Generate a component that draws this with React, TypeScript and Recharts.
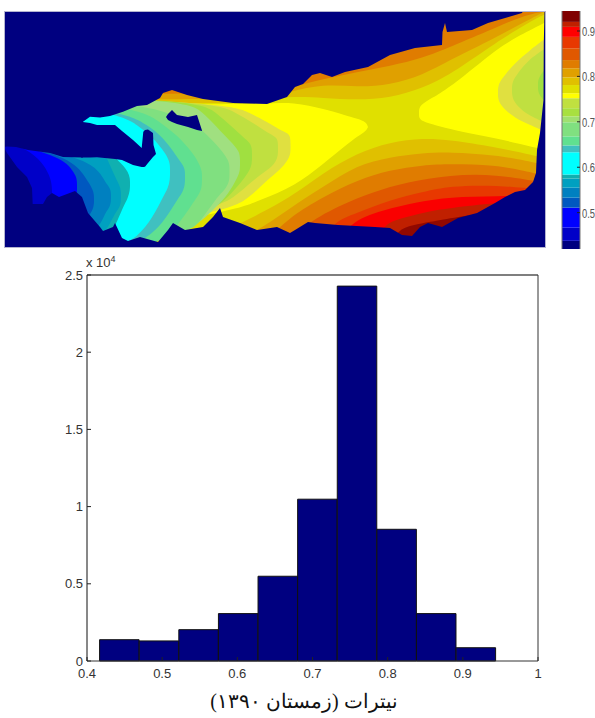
import React from "react";
import {
  Area,
  Bar,
  BarChart,
  ComposedChart,
  XAxis,
  YAxis,
} from "recharts";

type Row = [number, number, number]; // x, upper edge, lower edge of a contour region

// histogram
const binCenters = [0.4431, 0.4958, 0.5485, 0.6012, 0.6539, 0.7066, 0.7593, 0.812, 0.8647, 0.9174];
const binCounts = [1380, 1300, 2030, 3070, 5490, 10480, 24280, 8530, 3070, 860];
const countTicks = [0, 5000, 10000, 15000, 20000, 25000];
const valueTicks = [0.4, 0.5, 0.6, 0.7, 0.8, 0.9, 1];

// colorbar
const barEdges = [0.42, 0.438, 0.467, 0.511, 0.533, 0.555, 0.575, 0.584, 0.633, 0.648, 0.668, 0.699, 0.712, 0.73, 0.752, 0.763, 0.781, 0.798, 0.818, 0.836, 0.862, 0.887, 0.909, 0.92, 0.944];
const barColors = ["#000080", "#0000c8", "#0000ff", "#0058c0", "#0080c0", "#00a0c0", "#10b0b0", "#00ffff", "#40c0c0", "#60e090", "#80e080", "#a0e070", "#a8e040", "#c0e040", "#ffff00", "#e0e000", "#e0c000", "#e0a000", "#e07c00", "#e05800", "#e83800", "#ff0000", "#c02000", "#800000"];
const barTicks = [0.5, 0.6, 0.7, 0.8, 0.9];

// map regions, highest level first
const landFull: Row[] = [[4, 11, 248], [546, 11, 248]];
const regionL8: Row[] = [[4, 11, 248], [390, 11, 248], [397, 11, 230], [413, 11, 225], [430, 11, 222], [450, 11, 218], [495, 11, 212], [546, 11, 205]];
const regionL7: Row[] = [[4, 11, 248], [375, 11, 248], [383, 11, 223], [407, 11, 217], [430, 11, 211], [450, 11, 208], [495, 11, 203], [546, 11, 200]];
const regionL6: Row[] = [[4, 11, 248], [340, 11, 248], [347, 11, 223], [383, 11, 210], [417, 11, 202], [450, 11, 197], [495, 11, 196], [546, 11, 196]];
const regionL5: Row[] = [[4, 11, 248], [325, 11, 248], [330, 11, 223], [357, 11, 213], [390, 11, 200], [423, 11, 192], [450, 11, 186], [495, 11, 185], [546, 11, 190]];
const regionL4: Row[] = [[4, 11, 248], [290, 11, 248], [300, 11, 227], [340, 11, 205], [373, 11, 192], [407, 11, 182], [450, 11, 175], [495, 11, 174], [546, 11, 183]];
const regionA000: Row[] = [[4, 95, 248], [250, 93, 248], [275, 92, 233], [290, 88, 217], [323, 79, 197], [357, 72, 180], [390, 66, 170], [423, 58, 165], [450, 47, 164], [495, 28, 165], [525, 15, 171], [546, 11, 176]];
const regionC000: Row[] = [[4, 100, 248], [240, 99, 240], [263, 98, 227], [290, 92, 208], [323, 84, 187], [357, 87, 165], [390, 85, 157], [423, 75, 153], [450, 60, 152], [495, 38, 155], [528, 20, 161], [546, 11, 165]];
const regionE000: Row[] = [[4, 105, 248], [225, 103, 232], [247, 102, 220], [290, 96, 198], [323, 98, 173], [357, 100, 153], [390, 98, 142], [423, 88, 138], [450, 75, 140], [495, 43, 147], [536, 18, 156], [546, 14, 158]];
const yellowWest: Row[] = [[4, 106, 248], [230, 104, 213], [260, 104, 200], [295, 102, 186], [323, 109, 164], [345, 115, 146], [358, 119, 136], [366, 122, 131], [368, 127, 127]];
const yellowEast: Row[] = [[419, 113, 113], [419, 106, 120], [428, 100, 123], [438, 95, 126], [462, 78, 132], [495, 50, 138], [520, 35, 144], [546, 22, 150]];
const paleWest: Row[] = [[4, 95, 248], [227, 103, 213], [250, 113, 197], [267, 122, 180], [280, 130, 170], [288, 133, 160], [290.5, 137, 154], [290.5, 147, 147]];
const paleEast: Row[] = [[498, 93, 93], [498, 84, 101], [504, 76, 109], [515, 63, 118], [530, 50, 125], [546, 38, 132]];
const limeWest: Row[] = [[4, 95, 248], [213, 102, 210], [235, 112, 197], [253, 123, 180], [268, 133, 170], [276, 137, 162], [278, 141, 155], [278, 150, 150]];
const limeEast: Row[] = [[512, 90, 90], [512, 82, 98], [518, 73, 107], [528, 60, 115], [546, 48, 123]];
const grassWest: Row[] = [[4, 95, 248], [197, 100, 215], [217, 113, 207], [232, 127, 193], [243, 137, 180], [250, 143, 170], [252, 148, 163], [252, 156, 156]];
const grassEast: Row[] = [[538, 85, 85], [538, 80, 92], [541, 74, 97], [546, 68, 103]];
const springWest: Row[] = [[4, 95, 248], [187, 100, 230], [203, 113, 220], [213, 123, 210], [227, 138, 196], [235, 146, 182], [239, 152, 174], [240, 157, 169], [240, 164, 164]];
const mintWest: Row[] = [[4, 95, 248], [153, 104, 240], [187, 122, 230], [197, 125, 227], [217, 145, 197], [225, 155, 190], [229, 162, 182], [229.5, 167, 177], [229.5, 172, 172]];
const seaWest: Row[] = [[4, 95, 248], [137, 107, 248], [160, 122, 242], [177, 135, 227], [193, 153, 203], [200, 165, 193], [202, 172, 186], [202, 177, 177]];
const tealWest: Row[] = [[4, 95, 248], [125, 112, 248], [147, 125, 238], [163, 137, 223], [177, 157, 200], [183, 165, 192], [185, 170, 184], [185, 177, 177]];
const cyanWest: Row[] = [[4, 95, 248], [117, 113, 248], [138, 125, 237], [153, 138, 217], [163, 150, 197], [168, 158, 188], [170, 164, 180], [170, 171, 171]];
const lagoonWest: Row[] = [[4, 140, 248], [110, 150, 232], [115, 158, 227], [123, 165, 207], [128, 172, 198], [130, 178, 190], [130, 184, 184]];
const azureWest: Row[] = [[4, 140, 248], [102, 150, 232], [107, 158, 230], [115, 177, 213], [120, 186, 207], [121, 192, 201], [121, 197, 197]];
const steelWest: Row[] = [[4, 140, 248], [83, 158, 240], [100, 172, 227], [105, 182, 213], [110, 188, 207], [111, 193, 201], [111, 197, 197]];
const cobaltWest: Row[] = [[4, 140, 248], [72, 158, 248], [85, 177, 222], [91, 186, 213], [94, 193, 206], [94, 200, 200]];
const blueWest: Row[] = [[4, 140, 248], [63, 158, 248], [72, 170, 210], [76, 176, 200], [77, 181, 194], [77, 187, 187]];
const deepWest: Row[] = [[4, 140, 248], [28, 150, 248], [42, 162, 248], [50, 176, 228], [52, 186, 212], [52, 195, 200]];

// sea around the land
const seaNorth: Row[] = [[4, 11, 147], [7, 11, 146.5], [16, 11, 147], [28, 11, 150], [50, 11, 153], [63, 11, 157], [83, 11, 157.5], [83.01, 11, 121.7], [90, 11, 116.7], [100, 11, 117.5], [110, 11, 116], [123, 11, 111.7], [137, 11, 106], [147, 11, 105], [160, 11, 98], [163, 11, 93], [172, 11, 90], [187, 11, 95], [203, 11, 99], [233, 11, 103], [267, 11, 104], [287, 11, 97], [295, 11, 87], [303, 11, 84], [312, 11, 75], [320, 11, 73], [332, 11, 77], [345, 11, 72], [368, 11, 67], [390, 11, 55], [415, 11, 48], [442, 11, 45], [442.5, 11, 32], [445, 11, 23], [447, 11, 32], [472, 11, 30], [488, 11, 23], [522, 11, 13], [523, 11, 11], [546, 11, 11]];
const seaInlet: Row[] = [[81, 121.7, 157.5], [90, 123, 157.5], [97, 125, 157.3], [115, 125, 159], [122, 131, 160], [133, 140, 165], [141.7, 148, 167], [143.3, 131.7, 167], [145, 130, 166.7], [148, 129.5, 163], [153, 133, 157], [153.5, 145, 156.5], [156, 154, 154]];
const seaSouth: Row[] = [[4, 147, 248], [7, 153, 248], [17, 167, 248], [27, 177, 248], [32, 188, 248], [32.7, 204, 248], [43, 204, 248], [47, 197, 248], [52, 193, 248], [59, 197, 248], [75, 191, 248], [82, 197, 248], [88, 213, 248], [100, 227, 248], [103, 231, 248], [113, 227, 248], [115, 223, 248], [122, 238, 248], [128, 241, 248], [140, 237, 248], [158, 242, 248], [168, 230, 248], [173, 223, 248], [185, 230, 248], [203, 227, 248], [213, 217, 248], [220, 208, 248], [223, 217, 248], [240, 223, 248], [257, 230, 248], [277, 227, 248], [290, 233, 248], [295, 230, 248], [308, 222, 248], [315, 223, 248], [338, 225, 248], [375, 227, 248], [390, 228, 248], [402, 235, 248], [412, 236, 248], [420, 227, 248], [428, 223, 248], [442, 227, 248], [458, 218, 248], [477, 213, 248], [495, 203, 248], [505, 197, 248], [515, 192, 248], [525, 190, 248], [533, 182, 248], [536, 173, 248], [537, 150, 248], [540, 133, 248], [543.5, 100, 248], [543.8, 43, 248], [544.5, 11, 248], [546, 11, 248]];
const seaIsland: Row[] = [[166, 117, 117], [168, 114, 120], [172, 110, 122], [177, 115, 124], [188, 117, 127], [197, 115, 130], [202, 130.5, 131]];

const NAVY = "#000080";
const smoothLayers: [Row[], string][] = [
  [landFull, "#900800"],
  [regionL8, "#c02000"],
  [regionL7, "#fa0000"],
  [regionL6, "#e83800"],
  [regionL5, "#e05800"],
  [regionL4, "#e07c00"],
  [regionA000, "#e0a000"],
  [regionC000, "#e0c000"],
  [regionE000, "#e0e000"],
  [yellowWest, "#ffff00"],
  [yellowEast, "#ffff00"],
  [paleWest, "#e0e040"],
  [paleEast, "#e0e040"],
  [limeWest, "#c0e040"],
  [limeEast, "#c0e040"],
  [grassWest, "#a0e040"],
  [grassEast, "#a0e040"],
  [springWest, "#a0e080"],
  [mintWest, "#80e080"],
  [seaWest, "#60e090"],
  [tealWest, "#40c0c0"],
  [cyanWest, "#00ffff"],
  [lagoonWest, "#10b0b0"],
  [azureWest, "#00a0c0"],
  [steelWest, "#0080c0"],
  [cobaltWest, "#0058c0"],
  [blueWest, "#0000ff"],
  [deepWest, "#0000c8"],
];
const seaLayers: Row[][] = [seaNorth, seaInlet, seaSouth, seaIsland];

const toRows = (rows: Row[]) => rows.map(([x, lo, hi]) => ({ x, range: [lo, hi] }));

const histData = binCenters.map((center, i) => ({ center, count: binCounts[i] }));

const colorbarRow: Record<string, number | string> = { name: "levels", pad: barEdges[0] };
barColors.forEach((_, i) => {
  colorbarRow[`b${i}`] = barEdges[i + 1] - barEdges[i];
});

const tickFont = { fontFamily: "Liberation Sans, Arial, sans-serif", fontSize: 13, fill: "#333" };

// the colorbar labels are squeezed in the picture
function NarrowTick({ y, payload }: any) {
  return (
    <text
      transform={`translate(582,${y + 5}) scale(0.72,1)`}
      fontFamily="Liberation Sans, sans-serif"
      fontSize={13}
      fill="#555"
    >
      {payload.value}
    </text>
  );
}

function MapPanel() {
  return (
    <div style={{ position: "absolute", left: 4, top: 11, width: 542, height: 237, filter: "blur(0.5px)" }}>
      <ComposedChart width={542} height={237} margin={{ top: 0, right: 0, bottom: 0, left: 0 }} data={[]}>
        <XAxis dataKey="x" type="number" domain={[4, 546]} hide allowDataOverflow />
        <YAxis type="number" domain={[11, 248]} reversed hide allowDataOverflow />
        {smoothLayers.map(([rows, fill], i) => (
          <Area
            key={`band${i}`}
            data={toRows(rows)}
            dataKey="range"
            type="basis"
            stroke="none"
            fill={fill}
            fillOpacity={1}
            dot={false}
            activeDot={false}
            isAnimationActive={false}
          />
        ))}
        {seaLayers.map((rows, i) => (
          <Area
            key={`sea${i}`}
            data={toRows(rows)}
            dataKey="range"
            type="linear"
            stroke="none"
            fill={NAVY}
            fillOpacity={1}
            dot={false}
            activeDot={false}
            isAnimationActive={false}
          />
        ))}
      </ComposedChart>
      <div style={{ position: "absolute", inset: 0, border: "1px solid #b4b4d0", boxSizing: "border-box" }} />
    </div>
  );
}

function Colorbar() {
  return (
    <div style={{ position: "absolute", left: 0, top: 11, width: 595, height: 238 }}>
      <BarChart
        width={595}
        height={238}
        data={[colorbarRow]}
        margin={{ top: 0, right: 0, bottom: 0, left: 561 }}
        barCategoryGap={0}
      >
        <XAxis dataKey="name" hide />
        <YAxis
          yAxisId="left"
          orientation="left"
          width={1}
          type="number"
          domain={[0.42, 0.944]}
          allowDataOverflow
          ticks={barTicks}
          tickSize={-3}
          axisLine={{ stroke: "#777" }}
          tickLine={{ stroke: "#222" }}
          tick={false}
        />
        <YAxis
          orientation="right"
          width={15}
          type="number"
          domain={[0.42, 0.944]}
          allowDataOverflow
          ticks={barTicks}
          tickSize={-3}
          tickMargin={5}
          axisLine={{ stroke: "#777" }}
          tickLine={{ stroke: "#222" }}
          tick={NarrowTick}
        />
        <Bar dataKey="pad" stackId="levels" fill="none" isAnimationActive={false} />
        {barColors.map((color, i) => (
          <Bar key={color + i} dataKey={`b${i}`} stackId="levels" fill={color} isAnimationActive={false} />
        ))}
      </BarChart>
    </div>
  );
}

function Histogram() {
  return (
    <div style={{ position: "absolute", left: 0, top: 255, width: 595, height: 440 }}>
      <BarChart
        width={595}
        height={440}
        data={histData}
        margin={{ top: 19, right: 56, bottom: 4, left: 47 }}
        barCategoryGap={0}
        barGap={0}
      >
        <XAxis
          dataKey="center"
          type="number"
          domain={[0.4, 1]}
          ticks={valueTicks}
          height={30}
          tickSize={-4}
          tickMargin={12}
          axisLine={{ stroke: "#333" }}
          tickLine={{ stroke: "#222" }}
          tick={tickFont}
          interval={0}
        />
        <XAxis
          xAxisId="top"
          dataKey="center"
          orientation="top"
          type="number"
          domain={[0.4, 1]}
          ticks={valueTicks}
          height={1}
          tickSize={-4}
          axisLine={{ stroke: "#555", strokeWidth: 1.5 }}
          tickLine={{ stroke: "#222" }}
          tick={false}
          interval={0}
        />
        <YAxis
          width={40}
          type="number"
          domain={[0, 25000]}
          ticks={countTicks}
          tickSize={-4}
          tickMargin={8}
          axisLine={{ stroke: "#111" }}
          tickLine={{ stroke: "#222" }}
          tick={tickFont}
          tickFormatter={(v: number) => String(v / 10000)}
          interval={0}
        />
        <YAxis
          yAxisId="right"
          orientation="right"
          width={1}
          type="number"
          domain={[0, 25000]}
          ticks={countTicks}
          tickSize={-4}
          axisLine={{ stroke: "#333" }}
          tickLine={{ stroke: "#222" }}
          tick={false}
          interval={0}
        />
        <Bar
          dataKey="count"
          fill={NAVY}
          stroke="#111"
          strokeWidth={1}
          barSize={39.5}
          isAnimationActive={false}
        />
      </BarChart>
    </div>
  );
}

export default function App() {
  return (
    <div style={{ position: "absolute", left: 0, top: 0, width: 595, height: 718, background: "#fff", overflow: "hidden" }}>
      <MapPanel />
      <Colorbar />
      <Histogram />
      <div style={{ position: "absolute", left: 86, top: 255, font: "13px Liberation Sans, Arial, sans-serif", color: "#333" }}>
        x 10<sup style={{ fontSize: 9, lineHeight: 0 }}>4</sup>
      </div>
      <div
        dir="rtl"
        style={{
          position: "absolute",
          left: 0,
          width: 608,
          top: 689,
          textAlign: "center",
          font: "20px Liberation Serif, DejaVu Serif, serif",
          color: "#111",
        }}
      >
        نیترات (زمستان ۱۳۹۰)
      </div>
    </div>
  );
}
